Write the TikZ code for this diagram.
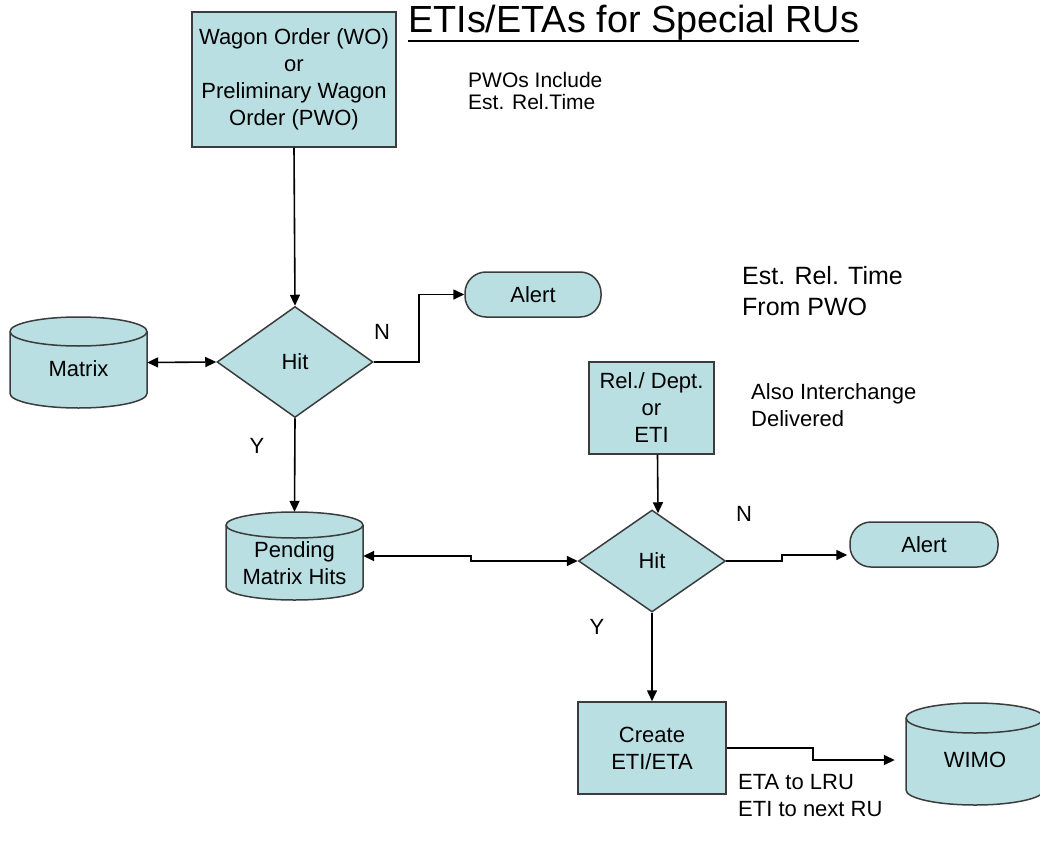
\documentclass[tikz,border=0pt]{standalone}
\usepackage{fontspec}
\setmainfont{Liberation Sans}
\usetikzlibrary{shapes.geometric,arrows.meta,calc}
\definecolor{boxfill}{HTML}{B9DFE3}
\definecolor{boxline}{HTML}{3C3C3C}

% database cylinder: name, centre x, centre y, width, height, rim radius, text, text offset
\newcommand\dbcyl[8]{%
  \begin{scope}[shift={(#2,#3)}]
    \path[fill=boxfill, draw=boxline, line width=1.5pt]
      ({-#4/2},{-#5/2+#6}) -- ({-#4/2},{#5/2-#6})
      arc[start angle=180, end angle=0, x radius={#4/2}, y radius=#6]
      -- ({#4/2},{-#5/2+#6})
      arc[start angle=0, end angle=-180, x radius={#4/2}, y radius=#6] -- cycle;
    \draw[boxline, line width=1.5pt] ({-#4/2},{-#5/2+#6})
      arc[start angle=180, end angle=0, x radius={#4/2}, y radius=#6];
  \end{scope}
  \node[store, minimum width=#4pt, minimum height=#5pt] (#1) at (#2,#3) {};
  \node[align=center, inner sep=0] (#1-text) at ($(#1.center)+(0,#8)$) {#7};
}

\begin{document}
\begin{tikzpicture}[x=1pt, y=-1pt,
  every node/.style={font=\fontsize{22}{27}\selectfont, text=black},
  proc/.style={rectangle, draw=boxline, fill=boxfill, line width=1.5pt, inner sep=0, align=center},
  decision/.style={diamond, draw=boxline, fill=boxfill, line width=1.5pt, inner sep=0},
  terminal/.style={rectangle, draw=boxline, fill=boxfill, line width=1.5pt, rounded corners=21pt, inner sep=0},
  store/.style={rectangle, inner sep=0},
  flow/.style={line width=1.6pt, -{Triangle[length=11pt,width=10pt]}},
  flowboth/.style={line width=1.6pt, {Triangle[length=11pt,width=10pt]}-{Triangle[length=11pt,width=10pt]}},
  note/.style={anchor=base west, align=left, inner sep=0},
  yn/.style={inner sep=0},
]
\useasboundingbox (0,0) rectangle (1040,850);
\fill[white] (0,0) rectangle (1040,850);

% title
\node[anchor=base west, inner sep=0, font=\fontsize{37.8}{44}\selectfont] (title) at (408,33) {ETIs/ETAs for Special RUs};
\draw[line width=1.5pt] ($(title.base west)+(0,8)$) -- ($(title.base east)+(0,8)$);

% side notes
\node[note, font=\fontsize{21}{22.5}\selectfont] (pwonote) at (468,110) {PWOs Include\\Est. Rel.Time};
\node[note, font=\fontsize{25}{31}\selectfont] (estnote) at (742,315) {Est. Rel. Time\\From PWO};
\node[note] (alsonote) at (751,426) {Also Interchange\\Delivered};
\node[note] (etanote) at (738,816) {ETA to LRU\\ETI to next RU};

% first stage
\node[proc, minimum width=204pt, minimum height=135pt] (wo) at (294,79.5)
  {Wagon Order (WO)\\or\\Preliminary Wagon\\Order (PWO)};
\node[decision, minimum width=156pt, minimum height=111pt] (hit1) at (295,362) {Hit};
\dbcyl{matrix}{78.5}{362.5}{137}{91}{14.5}{Matrix}{6}
\node[terminal, minimum width=136pt, minimum height=45pt] (alert1) at (533,294.5) {Alert};
\dbcyl{pending}{294.5}{556}{137}{88}{13}{Pending\\Matrix Hits}{7}
\node[yn] (n1) at (382,332) {N};
\node[yn] (y1) at (257,446) {Y};

% second stage
\node[proc, minimum width=125pt, minimum height=92pt] (rel) at (651.5,408) {Rel./ Dept.\\or\\ETI};
\node[decision, minimum width=147pt, minimum height=102pt] (hit2) at (652,561) {Hit};
\node[terminal, minimum width=148pt, minimum height=45pt] (alert2) at (924,544.5) {Alert};
\node[proc, minimum width=148pt, minimum height=92pt] (create) at (652,748) {Create\\ETI/ETA};
\dbcyl{wimo}{975}{754}{138}{102}{15}{WIMO}{6}
\node[yn] (n2) at (744,514) {N};
\node[yn] (y2) at (597,627) {Y};

% connectors
\draw[flow] (wo.south) -- (hit1.north);
\draw[flowboth] (matrix.east) -- (hit1.west);
\draw[flow] (hit1.east) -- ++(45,0) |- (alert1.west);
\draw[flow] (hit1.south) -- (pending.north);
\draw[flowboth] (pending.east) -| ++(108,0) |- (hit2.west);
\draw[flow] ([xshift=6pt]rel.south) -- ([xshift=6pt,yshift=-4pt]hit2.north);
\draw[flow, shorten >=2pt] (hit2.east) -- ++(56,0) |- ($(alert2.west)+(0,10.5)$);
\draw[flow] (hit2.south) -- (create.north);
\draw[flow, shorten >=11pt] (create.east) -- ++(86,0) |- ($(wimo.west)+(0,6)$);
\end{tikzpicture}
\end{document}
